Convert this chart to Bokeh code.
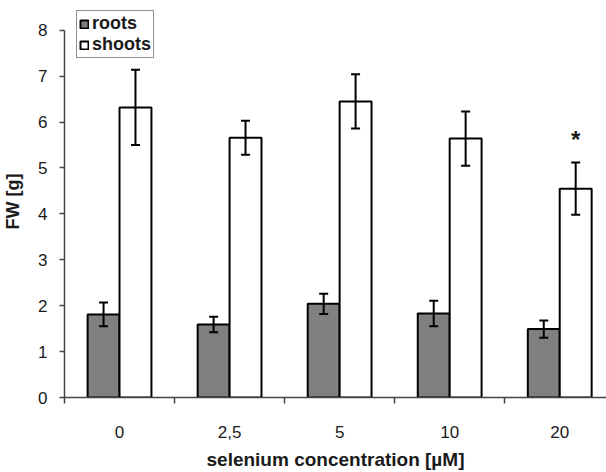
from bokeh.plotting import figure
from bokeh.models import (Range1d, FixedTicker, ColumnDataSource, Whisker, TeeHead,
                          Legend, LegendItem)
from bokeh.embed import file_html
from bokeh.resources import INLINE
from bokeh.core.properties import value

categories = ["0", "2,5", "5", "10", "20"]
roots = [1.81, 1.59, 2.04, 1.83, 1.49]
roots_err = [0.26, 0.17, 0.22, 0.28, 0.19]
shoots = [6.32, 5.66, 6.45, 5.64, 4.55]
shoots_err = [0.82, 0.37, 0.59, 0.59, 0.57]
significant = ["", "", "", "", "*"]
y_ticks = [0, 1, 2, 3, 4, 5, 6, 7, 8]

FONT = "Liberation Sans"
TXT = "#1a1a1a"
AX = "#444444"
bw = 0.29
centers = [i + 0.5 for i in range(len(categories))]

src_r = ColumnDataSource(dict(
    x=[c - bw / 2 for c in centers], top=roots,
    upper=[v + e for v, e in zip(roots, roots_err)],
    lower=[v - e for v, e in zip(roots, roots_err)]))
src_s = ColumnDataSource(dict(
    x=[c + bw / 2 for c in centers], top=shoots,
    upper=[v + e for v, e in zip(shoots, shoots_err)],
    lower=[v - e for v, e in zip(shoots, shoots_err)]))

p = figure(width=606, height=472, x_range=Range1d(0, 4.925), y_range=Range1d(0, 8.54),
           output_backend="svg", toolbar_location=None,
           min_border_left=63, min_border_right=0, min_border_top=5, min_border_bottom=72)
p.outline_line_color = None
p.xgrid.visible = False
p.ygrid.visible = False
p.background_fill_color = "white"

r1 = p.vbar(x="x", top="top", width=bw, bottom=0, source=src_r,
            fill_color="#808080", line_color="black", line_width=2)
r2 = p.vbar(x="x", top="top", width=bw, bottom=0, source=src_s,
            fill_color="white", line_color="black", line_width=2)

for src in (src_r, src_s):
    w = Whisker(source=src, base="x", upper="upper", lower="lower", level="overlay",
                line_color="black", line_width=2,
                upper_head=TeeHead(size=9, line_width=2, line_color="black"),
                lower_head=TeeHead(size=9, line_width=2, line_color="black"))
    p.add_layout(w)

star_x = [c + bw / 2 for c, s in zip(centers, significant) if s]
star_y = [v + e + 0.5 for v, e, s in zip(shoots, shoots_err, significant) if s]
p.text(x=star_x, y=star_y, text=[s for s in significant if s], text_align="center",
       text_baseline="middle", text_font=value(FONT), text_font_style="bold",
       text_font_size="24px", text_color=TXT)

# Y axis
ya = p.yaxis[0]
ya.ticker = FixedTicker(ticks=y_ticks)
ya.bounds = (0, 8)
ya.major_tick_out = 5
ya.major_tick_in = 0
ya.minor_tick_out = 0
ya.minor_tick_in = 0
ya.axis_line_width = 1.5
ya.major_tick_line_width = 1.5
ya.axis_line_color = AX
ya.major_tick_line_color = AX
ya.major_label_text_font = FONT
ya.major_label_text_font_size = "17px"
ya.major_label_text_color = TXT
ya.major_label_standoff = 12
ya.axis_label = "FW [g]"
ya.axis_label_text_font = FONT
ya.axis_label_text_font_style = "bold"
ya.axis_label_text_font_size = "18px"
ya.axis_label_text_color = TXT
ya.axis_label_standoff = 12

# X axis
xa = p.xaxis[0]
xa.ticker = FixedTicker(ticks=centers, minor_ticks=list(range(len(categories) + 1)))
xa.major_label_overrides = {c: lab for c, lab in zip(centers, categories)}
xa.major_tick_out = 0
xa.major_tick_in = 0
xa.minor_tick_out = 6
xa.minor_tick_in = 0
xa.minor_tick_line_width = 1.5
xa.minor_tick_line_color = AX
xa.axis_line_width = 1.5
xa.axis_line_color = AX
xa.major_label_text_font = FONT
xa.major_label_text_font_size = "17px"
xa.major_label_text_color = TXT
xa.major_label_standoff = 22
xa.axis_label = "selenium concentration [µM]"
xa.axis_label_text_font = FONT
xa.axis_label_text_font_style = "bold"
xa.axis_label_text_font_size = "19px"
xa.axis_label_text_color = TXT
xa.axis_label_standoff = 8

legend = Legend(items=[LegendItem(label="roots", renderers=[r1]),
                       LegendItem(label="shoots", renderers=[r2])],
                location=(12, 339))
legend.border_line_color = "#222222"
legend.border_line_width = 1.5
legend.background_fill_color = "white"
legend.background_fill_alpha = 1
legend.label_text_font = FONT
legend.label_text_font_style = "bold"
legend.label_text_font_size = "18px"
legend.label_text_color = TXT
legend.glyph_width = 10
legend.glyph_height = 10
legend.label_standoff = 3
legend.label_height = 18
legend.padding = 2
legend.spacing = 0
legend.margin = 0
p.add_layout(legend)

open("out.html", "w").write(file_html(p, INLINE))
